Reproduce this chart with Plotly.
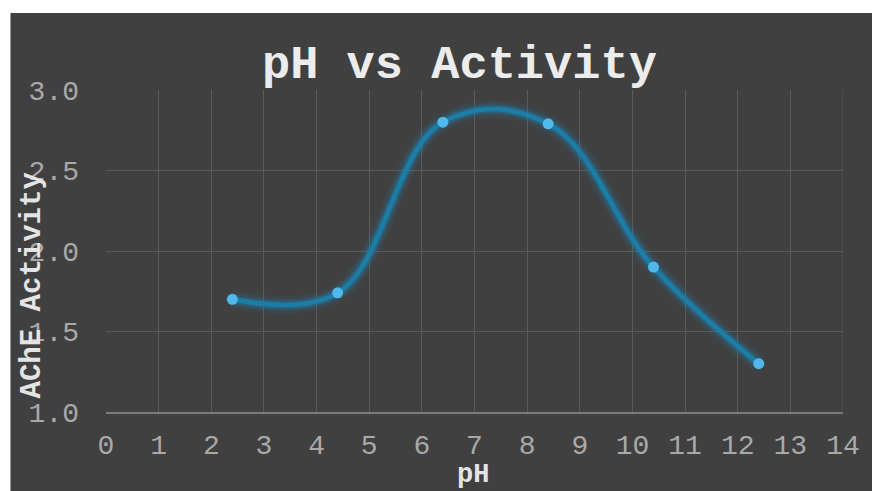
import plotly.graph_objects as go

# pH sweep and measured AChE activity
ph_values = [2.4, 4.4, 6.4, 8.4, 10.4, 12.4]
activity = [1.70, 1.74, 2.80, 2.79, 1.90, 1.30]

x_ticks = list(range(0, 15))
y_ticks = [1.0, 1.5, 2.0, 2.5, 3.0]
y_tick_text = ["1.0", "1.5", "2.0", "2.5", "3.0"]

BG = "#404040"
GRID = "#5a5a5a"
TICK = "#a9a9a9"
MONO = "Liberation Mono, Courier New, monospace"

fig = go.Figure()

# soft glow under the curve
for w, a in [(18, 0.08), (12, 0.15), (8, 0.26)]:
    fig.add_trace(go.Scatter(
        x=ph_values, y=activity, mode="lines",
        line=dict(shape="spline", smoothing=1.1, width=w,
                  color=f"rgba(30,140,200,{a})"),
        hoverinfo="skip", showlegend=False,
    ))

fig.add_trace(go.Scatter(
    x=ph_values, y=activity, mode="lines+markers",
    line=dict(shape="spline", smoothing=1.1, width=4.5, color="#1a7ea6"),
    marker=dict(size=11, color="#50b8ea", line=dict(width=0)),
    showlegend=False,
))

fig.update_layout(
    width=872, height=491,
    margin=dict(l=106, r=25, t=90, b=79),
    paper_bgcolor="white",
    plot_bgcolor=BG,
    font=dict(family=MONO, color=TICK, size=28),
    shapes=[dict(
        type="rect", xref="paper", yref="paper", layer="below",
        x0=-0.1296, x1=1.05, y0=-0.3, y1=1.239,
        fillcolor=BG, line=dict(width=0),
    )],
    annotations=[
        dict(text="<b>pH vs Activity</b>", xref="paper", yref="paper",
             x=0.479, y=1.075, xanchor="center", yanchor="middle",
             showarrow=False, font=dict(family=MONO, size=47, color="#ececec")),
        dict(text="<b>AChE Activity</b>", xref="paper", yref="paper",
             x=-0.1, y=0.394, xanchor="center", yanchor="middle", textangle=-90,
             showarrow=False, font=dict(family=MONO, size=29, color="#e4e4e4")),
        dict(text="<b>pH</b>", xref="paper", yref="paper",
             x=0.498, y=-0.195, xanchor="center", yanchor="middle",
             showarrow=False, font=dict(family=MONO, size=27, color="#e4e4e4")),
    ],
)

fig.update_xaxes(
    range=[0, 14], tickvals=x_ticks, ticktext=[str(t) for t in x_ticks],
    showgrid=True, gridcolor=GRID, gridwidth=1,
    showline=True, linecolor="#7a7a7a", linewidth=2,
    zeroline=False, ticks="", ticklabelstandoff=6,
    tickfont=dict(family=MONO, size=28, color=TICK),
)
fig.update_yaxes(
    range=[1.0, 3.0], tickvals=y_ticks, ticktext=y_tick_text,
    showgrid=True, gridcolor=GRID, gridwidth=1,
    showline=False, zeroline=False, ticks="", ticklabelstandoff=26,
    tickfont=dict(family=MONO, size=28, color=TICK),
)
# right border of the plot area at pH 14
fig.add_shape(type="line", xref="x", yref="paper", x0=14, x1=14, y0=0, y1=1,
              line=dict(color=GRID, width=1))

fig.write_html("out.html")
